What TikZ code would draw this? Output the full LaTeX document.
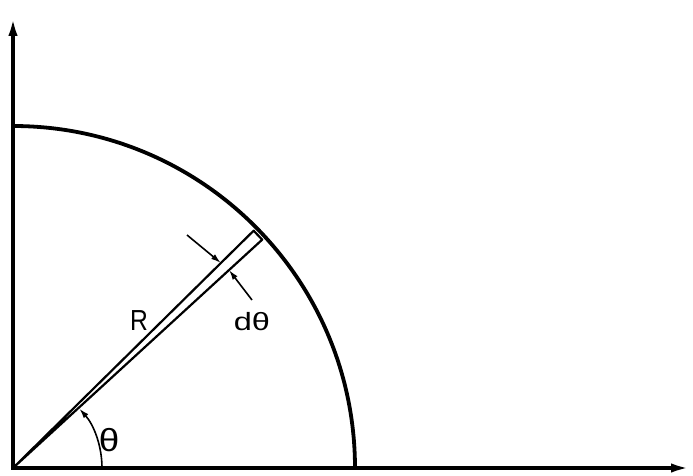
\documentclass[tikz,border=0pt]{standalone}
\usepackage{fontspec}
\setmainfont{Liberation Sans}
\usetikzlibrary{arrows.meta,calc}
\begin{document}
\begin{tikzpicture}[x=1pt,y=1pt,
  axis/.style={line width=4pt,line join=miter,{Latex[length=22pt,width=9pt]}-{Latex[length=22pt,width=9pt]}},
  rim/.style={line width=3.8pt},
  strip/.style={line width=2.2pt,line join=round},
  marker/.style={line width=1.6pt,-{Latex[length=10pt,width=6pt]}},
  lab/.style={inner sep=0pt}]
\useasboundingbox (0,0) rectangle (693,475);
\coordinate (O) at (13,7);
\coordinate (ytip) at (13,461);
\coordinate (xtip) at (693,7);
\draw[axis] (ytip) -- (O) -- (xtip);
% quarter circle
\coordinate (E) at ($(O)+(342,0)$);
\draw[rim] (E) arc[start angle=0,end angle=90,radius=342];
% thin strip
\coordinate (A) at ($(O)+(42.5:338)$);
\coordinate (B) at ($(O)+(44.6:338)$);
\draw[strip] (O) -- (A) -- (B) -- (O);
% d theta markers
\coordinate (P1) at ($(O)+(44.6:292)$);
\coordinate (T1) at (187,240);
\draw[marker] (T1) -- (P1);
\coordinate (P2) at ($(O)+(42.5:293)$);
\coordinate (T2) at (252,175);
\draw[marker] (T2) -- (P2);
% theta angle
\coordinate (S) at ($(O)+(89,0)$);
\draw[marker] (S) arc[start angle=0,end angle=41.8,radius=89];
% labels
\node[lab,font=\fontsize{29}{31}\selectfont,xscale=0.85] (R) at (139,154) {R};
\node[lab,font=\fontsize{25}{27}\selectfont,xscale=1.3] (dth) at (252,153) {dθ};
\node[lab,font=\fontsize{32}{34}\selectfont,xscale=1.15] (th) at (109,35) {θ};
\end{tikzpicture}
\end{document}
